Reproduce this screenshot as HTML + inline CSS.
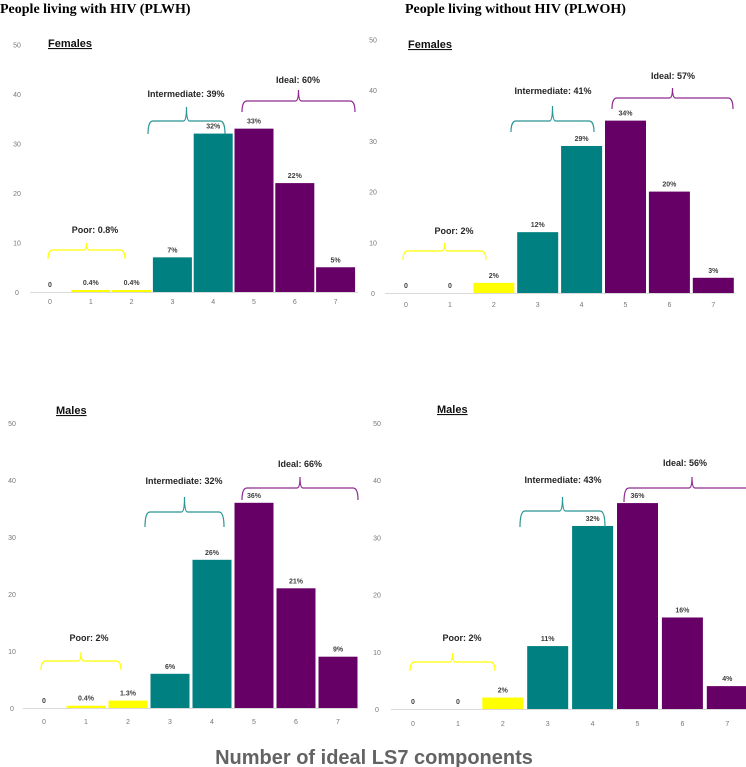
<!DOCTYPE html>
<html><head><meta charset="utf-8"><style>
body{margin:0;background:#fff;width:746px;height:767px;overflow:hidden}
svg{display:block}
</style></head><body>
<svg id="chart" width="746" height="767" xmlns="http://www.w3.org/2000/svg" font-family="Liberation Sans, sans-serif">
<text x="0" y="13" font-family="Liberation Serif, serif" font-weight="bold" font-size="14">People living with HIV (PLWH)</text>
<text x="405" y="13" font-family="Liberation Serif, serif" font-weight="bold" font-size="14">People living without HIV (PLWOH)</text>
<text x="374" y="764" text-anchor="middle" font-weight="bold" font-size="20" fill="#636363">Number of ideal LS7 components</text>
</svg>
<script>
const categories = [0,1,2,3,4,5,6,7];
const yTicks = [0,10,20,30,40,50];
const colors = ['#ffff00','#ffff00','#ffff00','#008080','#008080','#660066','#660066','#660066'];
const plwhFemales = [0,0.4,0.4,7,32,33,22,5];
const plwhFemalesLabels = ['0','0.4%','0.4%','7%','32%','33%','22%','5%'];
const plwohFemales = [0,0,2,12,29,34,20,3];
const plwohFemalesLabels = ['0','0','2%','12%','29%','34%','20%','3%'];
const plwhMales = [0,0.4,1.3,6,26,36,21,9];
const plwhMalesLabels = ['0','0.4%','1.3%','6%','26%','36%','21%','9%'];
const plwohMales = [0,0,2,11,32,36,16,4];
const plwohMalesLabels = ['0','0','2%','11%','32%','36%','16%','4%'];
const groupLabels = {
  plwhF:['Poor: 0.8%','Intermediate: 39%','Ideal: 60%'],
  plwohF:['Poor: 2%','Intermediate: 41%','Ideal: 57%'],
  plwhM:['Poor: 2%','Intermediate: 32%','Ideal: 66%'],
  plwohM:['Poor: 2%','Intermediate: 43%','Ideal: 56%']
};

const svg=document.getElementById('chart');
const NS='http://www.w3.org/2000/svg';
function mk(tag,attrs,parent){const e=document.createElementNS(NS,tag);for(const k in attrs)e.setAttribute(k,attrs[k]);(parent||svg).appendChild(e);return e;}

const panels=[
 {key:'plwhF',name:'plwh-females',sub:'Females',subX:48,subY:47,vals:plwhFemales,labs:plwhFemalesLabels,y0:292,ppu:4.95,c0:50,step:40.8,bw:39,axL:30,axR:358,yLX:17,xLY:304,
  br:[[48,125,250,259,243,95,233],[148,225,121,134,107,186,97],[242,355,101,112,90,298,83]]},
 {key:'plwohF',name:'plwoh-females',sub:'Females',subX:408,subY:48,vals:plwohFemales,labs:plwohFemalesLabels,y0:293,ppu:5.07,c0:406,step:43.9,bw:41,axL:385,axR:735,yLX:373,xLY:307,
  br:[[403,486,251,260,243,454,234],[511,594,121,132,106,553,94],[612,733,98,109,88,673,79]]},
 {key:'plwhM',name:'plwh-males',sub:'Males',subX:56,subY:414,vals:plwhMales,labs:plwhMalesLabels,y0:708,ppu:5.7,c0:44,step:42,bw:39,axL:23,axR:358,yLX:12,xLY:724,
  br:[[41,121,661,670,652,89,641],[145,224,512,527,497,184,484],[242,358,488,500,477,300,467]]},
 {key:'plwohM',name:'plwoh-males',sub:'Males',subX:437,subY:413,vals:plwohMales,labs:plwohMalesLabels,y0:709,ppu:5.72,c0:413,step:44.9,bw:41,axL:391,axR:746,yLX:377,xLY:726,
  br:[[410,495,662,671,653,462,641],[520,605,511,527,497,563,483],[624,760,488,502,477,685,466]]}
];
const brColors=['#ffff00','#2a9595','#8e2a8e'];

panels.forEach(p=>{
  const g=mk('g',{});
  
  
  const yS=v=>p.y0-v*p.ppu;
  const xS=i=>p.c0+i*p.step;
  yTicks.forEach(t=>{
    const tx=mk('text',{x:p.yLX,y:yS(t)+3,'text-anchor':'middle','font-size':7,fill:'#777'},g);
    
    
    tx.textContent=t;
  });
  const ax=mk('line',{x1:p.axL,x2:p.axR,y1:p.y0+0.5,y2:p.y0+0.5,stroke:'#d9d9d9','stroke-width':1},g);
  
  
  categories.forEach((c,i)=>{
    const v=p.vals[i];
    const b=mk('rect',{x:xS(i)-p.bw/2,y:yS(v),width:p.bw,height:Math.max(0,v*p.ppu),fill:colors[i]},g);
    
    
    const l=mk('text',{x:xS(i),y:yS(v)-5,'text-anchor':'middle','font-size':7,'font-weight':'bold',fill:'#404040'},g);
    
    
    l.textContent=p.labs[i];
    const xl=mk('text',{x:xS(i),y:p.xLY,'text-anchor':'middle','font-size':7,fill:'#777'},g);
    
    
    xl.textContent=c;
  });
  const st=mk('text',{x:p.subX,y:p.subY,'font-size':11,'font-weight':'bold','text-decoration':'underline',fill:'#111'},g);
  
  
  st.textContent=p.sub;
  p.br.forEach((b,k)=>{
    const [x1,x2,yl,ye,yt,lx,ly]=b;const mx=(x1+x2)/2;
    const d=`M${x1},${ye} Q${x1},${yl} ${x1+5},${yl} L${mx-3},${yl} Q${mx},${yl} ${mx},${yt} Q${mx},${yl} ${mx+3},${yl} L${x2-5},${yl} Q${x2},${yl} ${x2},${ye}`;
    const pa=mk('path',{d:d,fill:'none',stroke:brColors[k],'stroke-width':1.2},g);
    
    
    const t=mk('text',{x:lx,y:ly,'text-anchor':'middle','font-size':9,'font-weight':'bold',fill:'#262626'},g);
    
    
    t.textContent=groupLabels[p.key][k];
  });
});
</script>
</body></html>
